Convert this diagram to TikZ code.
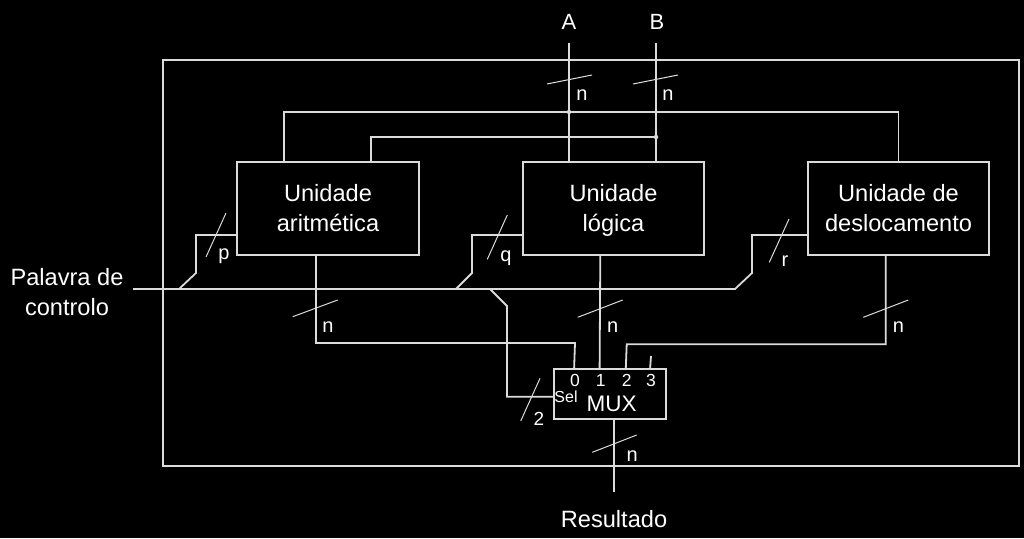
\documentclass[tikz,border=0pt]{standalone}
\usepackage{fontspec}
\setmainfont{Liberation Sans}
\usetikzlibrary{calc}
\definecolor{lc}{gray}{0.86}
\begin{document}
\begin{tikzpicture}[x=1pt,y=-1pt,
 wire/.style={draw=lc, line width=1.8pt},
 tick/.style={draw=lc, line width=1pt},
 blk/.style={draw=lc, line width=1.8pt, fill=black, text=white, align=center, inner sep=0pt, font=\fontsize{23.6}{30}\selectfont},
 lbl/.style={text=white, inner sep=0pt, anchor=base, font=\fontsize{20}{24}\selectfont},
 big/.style={text=white, inner sep=0pt, align=center, font=\fontsize{23.6}{30}\selectfont},
 dig/.style={text=white, inner sep=0pt, anchor=base, font=\fontsize{17.5}{18}\selectfont},
 jdot/.style={circle, fill=lc, inner sep=0pt, minimum size=4.5pt},
]
\fill[black] (0,0) rectangle (1024,538);
\useasboundingbox (0,0) rectangle (1024,538);

% outer frame
\node[draw=lc, line width=1.8pt, minimum width=856pt, minimum height=406pt, inner sep=0pt] (frame) at (591,263) {};

% blocks
\node[blk, minimum width=182pt, minimum height=93pt] (arith) at (328,208.5) {Unidade\\aritmética};
\node[blk, minimum width=181pt, minimum height=93pt] (logic) at (613.5,208.5) {Unidade\\ló\smash{g}ica};
\node[blk, minimum width=181pt, minimum height=93pt] (shift) at (898.5,208.5) {Unidade de\\deslocamento};
\node[draw=lc, line width=1.8pt, fill=black, minimum width=112pt, minimum height=50pt, inner sep=0pt] (mux) at (610,394.3) {};

% external labels
\node[text=white, inner sep=0pt, anchor=base, font=\fontsize{22}{24}\selectfont] (A) at (569,29) {A};
\node[text=white, inner sep=0pt, anchor=base, font=\fontsize{22}{24}\selectfont] (B) at (657,29) {B};
\node[big] (ctl) at (67,292) {Palavra de\\controlo};
\node[big, anchor=base] (res) at (614,527) {Resultado};

% mux labels
\node[dig] (d0) at (575,386.7) {0};
\node[dig] (d1) at (600.7,386.7) {1};
\node[dig] (d2) at (626.7,386.7) {2};
\node[dig] (d3) at (651,386.7) {3};
\node[dig, font=\fontsize{16}{18}\selectfont] (sel) at (566,402.5) {Sel};
\node[text=white, inner sep=0pt, anchor=base, font=\fontsize{22.5}{24}\selectfont] (muxt) at (611.7,411.7) {MUX};

% named free ends
\coordinate (Atop) at (569,43);
\coordinate (Btop) at (656,43);
\coordinate (ja) at (569,112);
\coordinate (jb) at (656,137);
\coordinate (c0) at (133,289);
\coordinate (c1) at (179,289);
\coordinate (c2) at (456,289);
\coordinate (c3) at (490,289);
\coordinate (c4) at (735,289);
\coordinate (p3) at (651,356);
\coordinate (rend) at (614,492);

% inputs A and B
\draw[wire] (Atop) -- ($(logic.north)+(-44.5,0)$);
\draw[wire] (Btop) -- ($(logic.north)+(42.5,0)$);
\draw[wire] ($(arith.north)+(-44,0)$) |- (ja) -| (shift.north);
\draw[wire] ($(arith.north)+(43,0)$) |- (jb);
\node[jdot] at (ja) {};
\node[jdot] at (jb) {};

% control word
\draw[wire] (c0) -- (c4) -- (752,273) |- ($(shift.west)+(0,26.5)$);
\draw[wire] (c1) -- (196,273) |- ($(arith.west)+(0,26.5)$);
\draw[wire] (c2) -- (472,273) |- ($(logic.west)+(0,26.5)$);
\draw[wire] (c3) -- (507,306) |- ($(mux.west)+(0,2.4)$);

% outputs to mux
\draw[wire] ($(arith.south)+(-12,0)$) |- (575,343) -- ($(mux.north west)+(21,0)$);
\draw[wire] ($(logic.south)+(-13.2,0)$) -- ($(mux.north west)+(46.5,0)$);
\draw[wire] ($(shift.south)+(-12.8,0)$) |- (626.7,344.3) -- ($(mux.north west)+(72.7,0)$);
\draw[wire] (p3) -- ($(mux.north west)+(97,0)$);
\draw[wire] ($(mux.south)+(4,0)$) -- (rend);

% bus width ticks
\draw[tick] (547,84) -- (592,75);
\draw[tick] (633,84) -- (678,75);
\draw[tick] (206,257) -- (226,213);
\draw[tick] (487.3,259.3) -- (507.3,215);
\draw[tick] (769.3,262.3) -- (789,219);
\draw[tick] (292.7,316.7) -- (337.7,300);
\draw[tick] (577.7,317.3) -- (622.7,300);
\draw[tick] (863.3,317.3) -- (908.3,300);
\draw[tick] (520.7,421) -- (540,378.3);
\draw[tick] (592.3,452.3) -- (636.7,435);

% bus width labels
\node[lbl] (nA) at (582,100.7) {n};
\node[lbl] (nB) at (668,100.7) {n};
\node[lbl] (lp) at (224,259) {p};
\node[lbl] (lq) at (506,261) {q};
\node[lbl] (lr) at (785,266) {r};
\node[lbl] (n1) at (328,332) {n};
\node[lbl] (n2) at (612.7,332) {n};
\node[lbl] (n3) at (898.3,332) {n};
\node[lbl, font=\fontsize{19}{22}\selectfont] (l2) at (539,425) {2};
\node[lbl] (n4) at (632.3,461.7) {n};
\end{tikzpicture}
\end{document}
